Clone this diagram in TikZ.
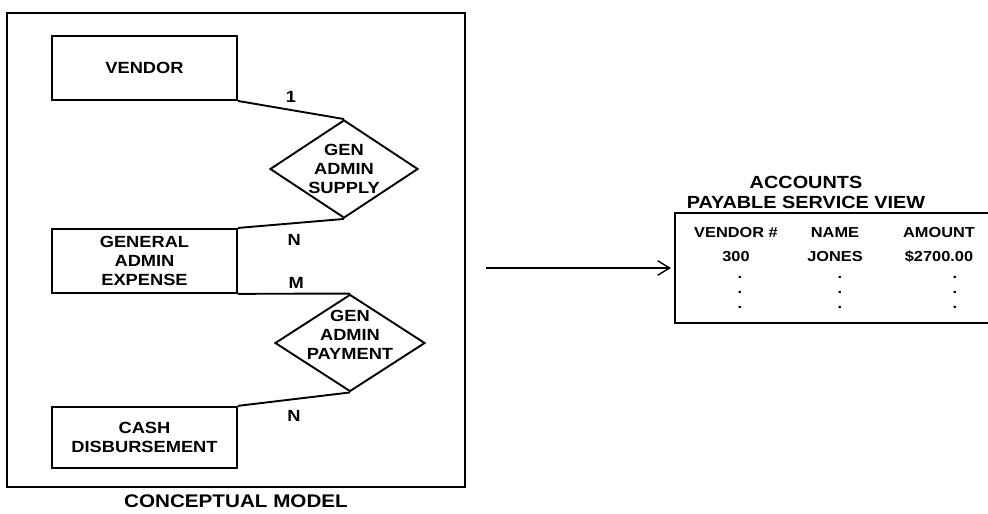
\documentclass[tikz,border=0pt]{standalone}
\usepackage{fontspec}
\setmainfont{Liberation Sans}[FakeStretch=1.13]
\usetikzlibrary{arrows.meta,positioning,shapes.geometric}

\begin{document}
\begin{tikzpicture}[
  x=0.25mm, y=-0.25mm,
  font=\bfseries,
  line width=1.35pt,
  entity/.style={
    draw,
    align=center,
    minimum width=46.25mm,
    minimum height=16mm,
    inner sep=2pt,
    font=\bfseries\fontsize{11.5}{13.8}\selectfont
  },
  relation/.style={
    draw,
    diamond,
    minimum width=37mm,
    minimum height=24.5mm,
    inner sep=0pt
  },
  reltext/.style={
    align=center,
    inner sep=0pt,
    font=\bfseries\fontsize{11.5}{13.4}\selectfont
  },
  card/.style={
    font=\bfseries\fontsize{11.5}{13}\selectfont,
    inner sep=2pt
  },
  caption/.style={
    align=center,
    font=\bfseries\fontsize{12.5}{14.2}\selectfont
  },
  cell/.style={
    font=\bfseries\fontsize{10.3}{12}\selectfont,
    inner sep=1pt
  },
  viewarrow/.style={
    -{Straight Barb[length=3mm,width=3.6mm]},
    line width=1pt
  }
]
\useasboundingbox (0,0) rectangle (988,514);

% Conceptual model frame
\node[draw, minimum width=114.5mm, minimum height=118.5mm] (model) at (236,250) {};
\node[caption, font=\bfseries\fontsize{13}{14}\selectfont, below=0.2mm of model] (modeltitle) {CONCEPTUAL MODEL};

% Entities
\node[entity] (vendor) at (144.5,68) {VENDOR};
\node[entity, below=31.75mm of vendor] (expense) {GENERAL\\ADMIN\\EXPENSE};
\node[entity, minimum height=15.25mm, below=28mm of expense] (cash) {CASH\\DISBURSEMENT};

% Relationships
\node[relation, label={[reltext]center:GEN\\ADMIN\\SUPPLY}] (supply) at (344,169) {};
\node[relation, minimum width=37.5mm, minimum height=24.25mm,
      label={[reltext, yshift=2mm]center:GEN\\ADMIN\\PAYMENT}] (payment) at (350,343) {};

\draw (vendor.south east) -- (supply.north) node[card, pos=0.5, above=3pt] (c1) {1};
\draw (supply.south) -- (expense.north east) node[card, pos=0.47, below=5pt] (c2) {N};
\draw (expense.south east) -- (payment.north) node[card, pos=0.52, above=1pt] (c3) {M};
\draw (payment.south) -- (cash.north east) node[card, pos=0.5, below=5.5pt] (c4) {N};

% Service view table
\node[draw, minimum width=80mm, minimum height=27.5mm] (view) at (835,268) {};
\node[caption] (viewtitle) at (806,192) {ACCOUNTS\\PAYABLE SERVICE VIEW};

\foreach \cx/\dx/\head/\val [count=\i] in {736/740/VENDOR \#/300, 835/840/NAME/JONES, 939/955/AMOUNT/\$2700.00} {
  \node[cell] (head\i) at (\cx,233) {\head};
  \node[cell] (val\i) at (\cx,257) {\val};
  \foreach \dy [count=\j] in {277,292,307}
    \node[cell] (dot\i\j) at (\dx,\dy) {.};
}

\draw[viewarrow, shorten >=0.75mm] (view.west -| model.east) ++(5mm,0) -- (view.west);

\end{tikzpicture}
\end{document}
